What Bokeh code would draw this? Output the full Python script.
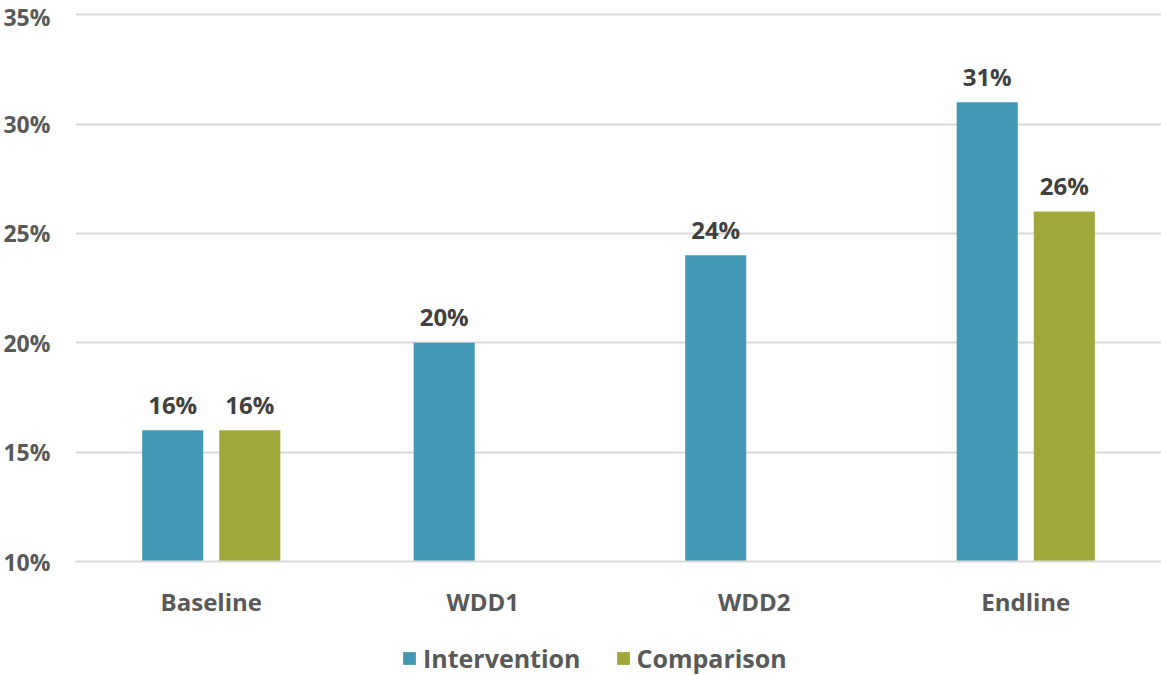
from bokeh.plotting import figure
from bokeh.layouts import column
from bokeh.models import (ColumnDataSource, FactorRange, Range1d, FixedTicker,
                          PrintfTickFormatter, Legend, LegendItem)
from bokeh.transform import dodge
from bokeh.core.properties import value
from bokeh.embed import file_html
from bokeh.resources import INLINE

# Survey rounds and share of respondents (%)
rounds = ["Baseline", "WDD1", "WDD2", "Endline"]
intervention = [16, 20, 24, 31]
comparison = [16, None, None, 26]
series_names = ["Intervention", "Comparison"]
y_ticks = [10, 15, 20, 25, 30, 35]

FONT = "Open Sans"
BLUE = "#4399B5"
OLIVE = "#A0A83A"
AXIS_TXT = "#595959"
LABEL_TXT = "#404040"
GRID = "#D9D9D9"

# ---- main chart -------------------------------------------------------------
p = figure(
    width=1161, height=620,
    x_range=FactorRange(*rounds, range_padding=0),
    y_range=Range1d(10, 35.1),
    output_backend="svg", toolbar_location=None,
    min_border_left=75, min_border_right=0, min_border_top=12, min_border_bottom=58,
)
p.outline_line_color = None

def series_source(vals):
    cats = [c for c, v in zip(rounds, vals) if v is not None]
    nums = [v for v in vals if v is not None]
    return ColumnDataSource(dict(cat=cats, val=nums, lab=[f"{v}%" for v in nums]))

src_i = series_source(intervention)
src_c = series_source(comparison)
sources = [src_i, src_c]
colors = [BLUE, OLIVE]

off = 0.142
bw = 0.225
offsets = [-off, off]

for src, o, c in zip(sources, offsets, colors):
    p.vbar(x=dodge("cat", o, range=p.x_range), top="val", bottom=10, width=bw,
           source=src, fill_color=c, line_color=None)
    p.text(x=dodge("cat", o, range=p.x_range), y="val", text="lab", source=src,
           text_font=value(FONT), text_font_style="bold", text_font_size="24px",
           text_color=LABEL_TXT, text_align="center", text_baseline="alphabetic",
           y_offset=-26)

# Axes
p.yaxis.ticker = FixedTicker(ticks=y_ticks)
p.yaxis.formatter = PrintfTickFormatter(format="%d%%")
p.yaxis.axis_line_color = None
p.yaxis.major_tick_line_color = None
p.yaxis.minor_tick_line_color = None
p.yaxis.major_label_standoff = 19
p.yaxis.major_label_text_font = FONT
p.yaxis.major_label_text_font_style = "bold"
p.yaxis.major_label_text_font_size = "23px"
p.yaxis.major_label_text_color = AXIS_TXT

p.xaxis.axis_line_color = GRID
p.xaxis.axis_line_width = 2
p.xaxis.major_tick_line_color = None
p.xaxis.minor_tick_line_color = None
p.xaxis.major_label_standoff = 17
p.xaxis.major_label_text_font = FONT
p.xaxis.major_label_text_font_style = "bold"
p.xaxis.major_label_text_font_size = "24px"
p.xaxis.major_label_text_color = AXIS_TXT

p.xgrid.grid_line_color = None
p.ygrid.grid_line_color = GRID
p.ygrid.grid_line_width = 2

# ---- legend strip -----------------------------------------------------------
# The strip shares the category axis; its y window sits far above the bars,
# so the series renderers here only feed the legend swatches.
leg = figure(
    width=1161, height=55, x_range=p.x_range, y_range=Range1d(100, 101),
    output_backend="svg", toolbar_location=None,
    min_border_left=0, min_border_right=0, min_border_top=0, min_border_bottom=0,
)
leg.axis.visible = False
leg.grid.visible = False
leg.outline_line_color = None

swatches = [leg.vbar(x=dodge("cat", o, range=p.x_range), top="val", bottom=10, width=bw,
                     source=src, fill_color=c, line_color=None)
            for src, o, c in zip(sources, offsets, colors)]

legend = Legend(
    items=[LegendItem(label=n, renderers=[r]) for n, r in zip(series_names, swatches)],
    orientation="horizontal", location=(326, 0),
    glyph_width=16, glyph_height=16, label_standoff=6, spacing=34,
    label_text_font=FONT, label_text_font_style="bold", label_text_font_size="25px",
    label_text_color=AXIS_TXT, border_line_color=None, background_fill_alpha=0,
    padding=0, margin=0,
)
leg.add_layout(legend)

layout = column(p, leg, spacing=0)
open("out.html", "w").write(file_html(layout, INLINE))
